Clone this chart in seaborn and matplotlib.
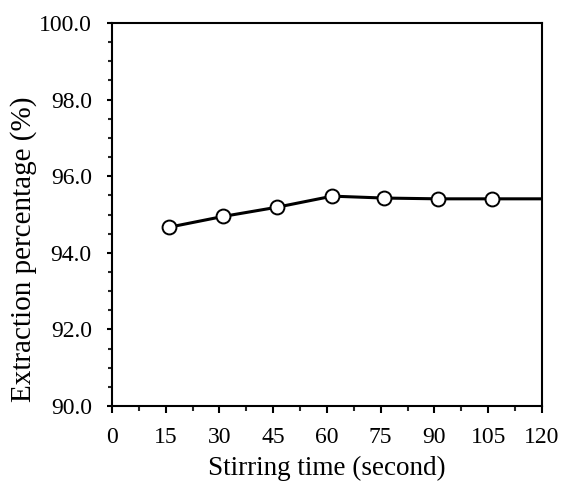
import matplotlib
matplotlib.use("Agg")
import matplotlib.pyplot as plt
import seaborn as sns
import pandas as pd
from matplotlib.ticker import MultipleLocator, FormatStrFormatter

# measured points (stirring time vs extraction %)
time_s = [16, 31, 46, 61.5, 76, 91, 106]
extraction = [94.67, 94.95, 95.19, 95.48, 95.43, 95.41, 95.41]
# line continues flat to the right edge
line_time = time_s + [120]
line_extraction = extraction + [95.41]

sns.set_theme(style="ticks")
plt.rcParams['font.family'] = ['Liberation Serif', 'DejaVu Serif']

df_line = pd.DataFrame({'time': line_time, 'ext': line_extraction})
df_pts = pd.DataFrame({'time': time_s, 'ext': extraction})

fig = plt.figure(figsize=(5.61, 4.84), dpi=100)
ax = fig.add_axes([0.1996, 0.161, 0.7664, 0.7915])

sns.lineplot(data=df_line, x='time', y='ext', ax=ax, color='black', linewidth=2.2)
sns.scatterplot(data=df_pts, x='time', y='ext', ax=ax, s=100, color='white',
                edgecolor='black', linewidth=1.4, zorder=3)

ax.set_xlim(0, 120)
ax.set_ylim(90, 100)
ax.xaxis.set_major_locator(MultipleLocator(15))
ax.xaxis.set_minor_locator(MultipleLocator(7.5))
ax.yaxis.set_major_locator(MultipleLocator(2))
ax.yaxis.set_minor_locator(MultipleLocator(0.5))
ax.yaxis.set_major_formatter(FormatStrFormatter('%.1f'))

for s in ax.spines.values():
    s.set_linewidth(1.5)
    s.set_color('black')

ax.tick_params(axis='both', which='major', labelsize=17, width=1.5, color='black', labelcolor='black')
ax.tick_params(axis='x', which='major', length=5, pad=10)
ax.tick_params(axis='x', which='minor', length=3.5, width=1.5)
ax.tick_params(axis='y', which='major', length=3.5, pad=11)
ax.tick_params(axis='y', which='minor', length=3, width=1.5)

ax.set_xlabel('Stirring time (second)', fontsize=19.5, color='black', labelpad=6)
ax.set_ylabel('Extraction percentage (%)', fontsize=21, color='black')
ax.yaxis.set_label_coords(-0.174, 0.41)

fig.savefig('out.png', dpi=100)
